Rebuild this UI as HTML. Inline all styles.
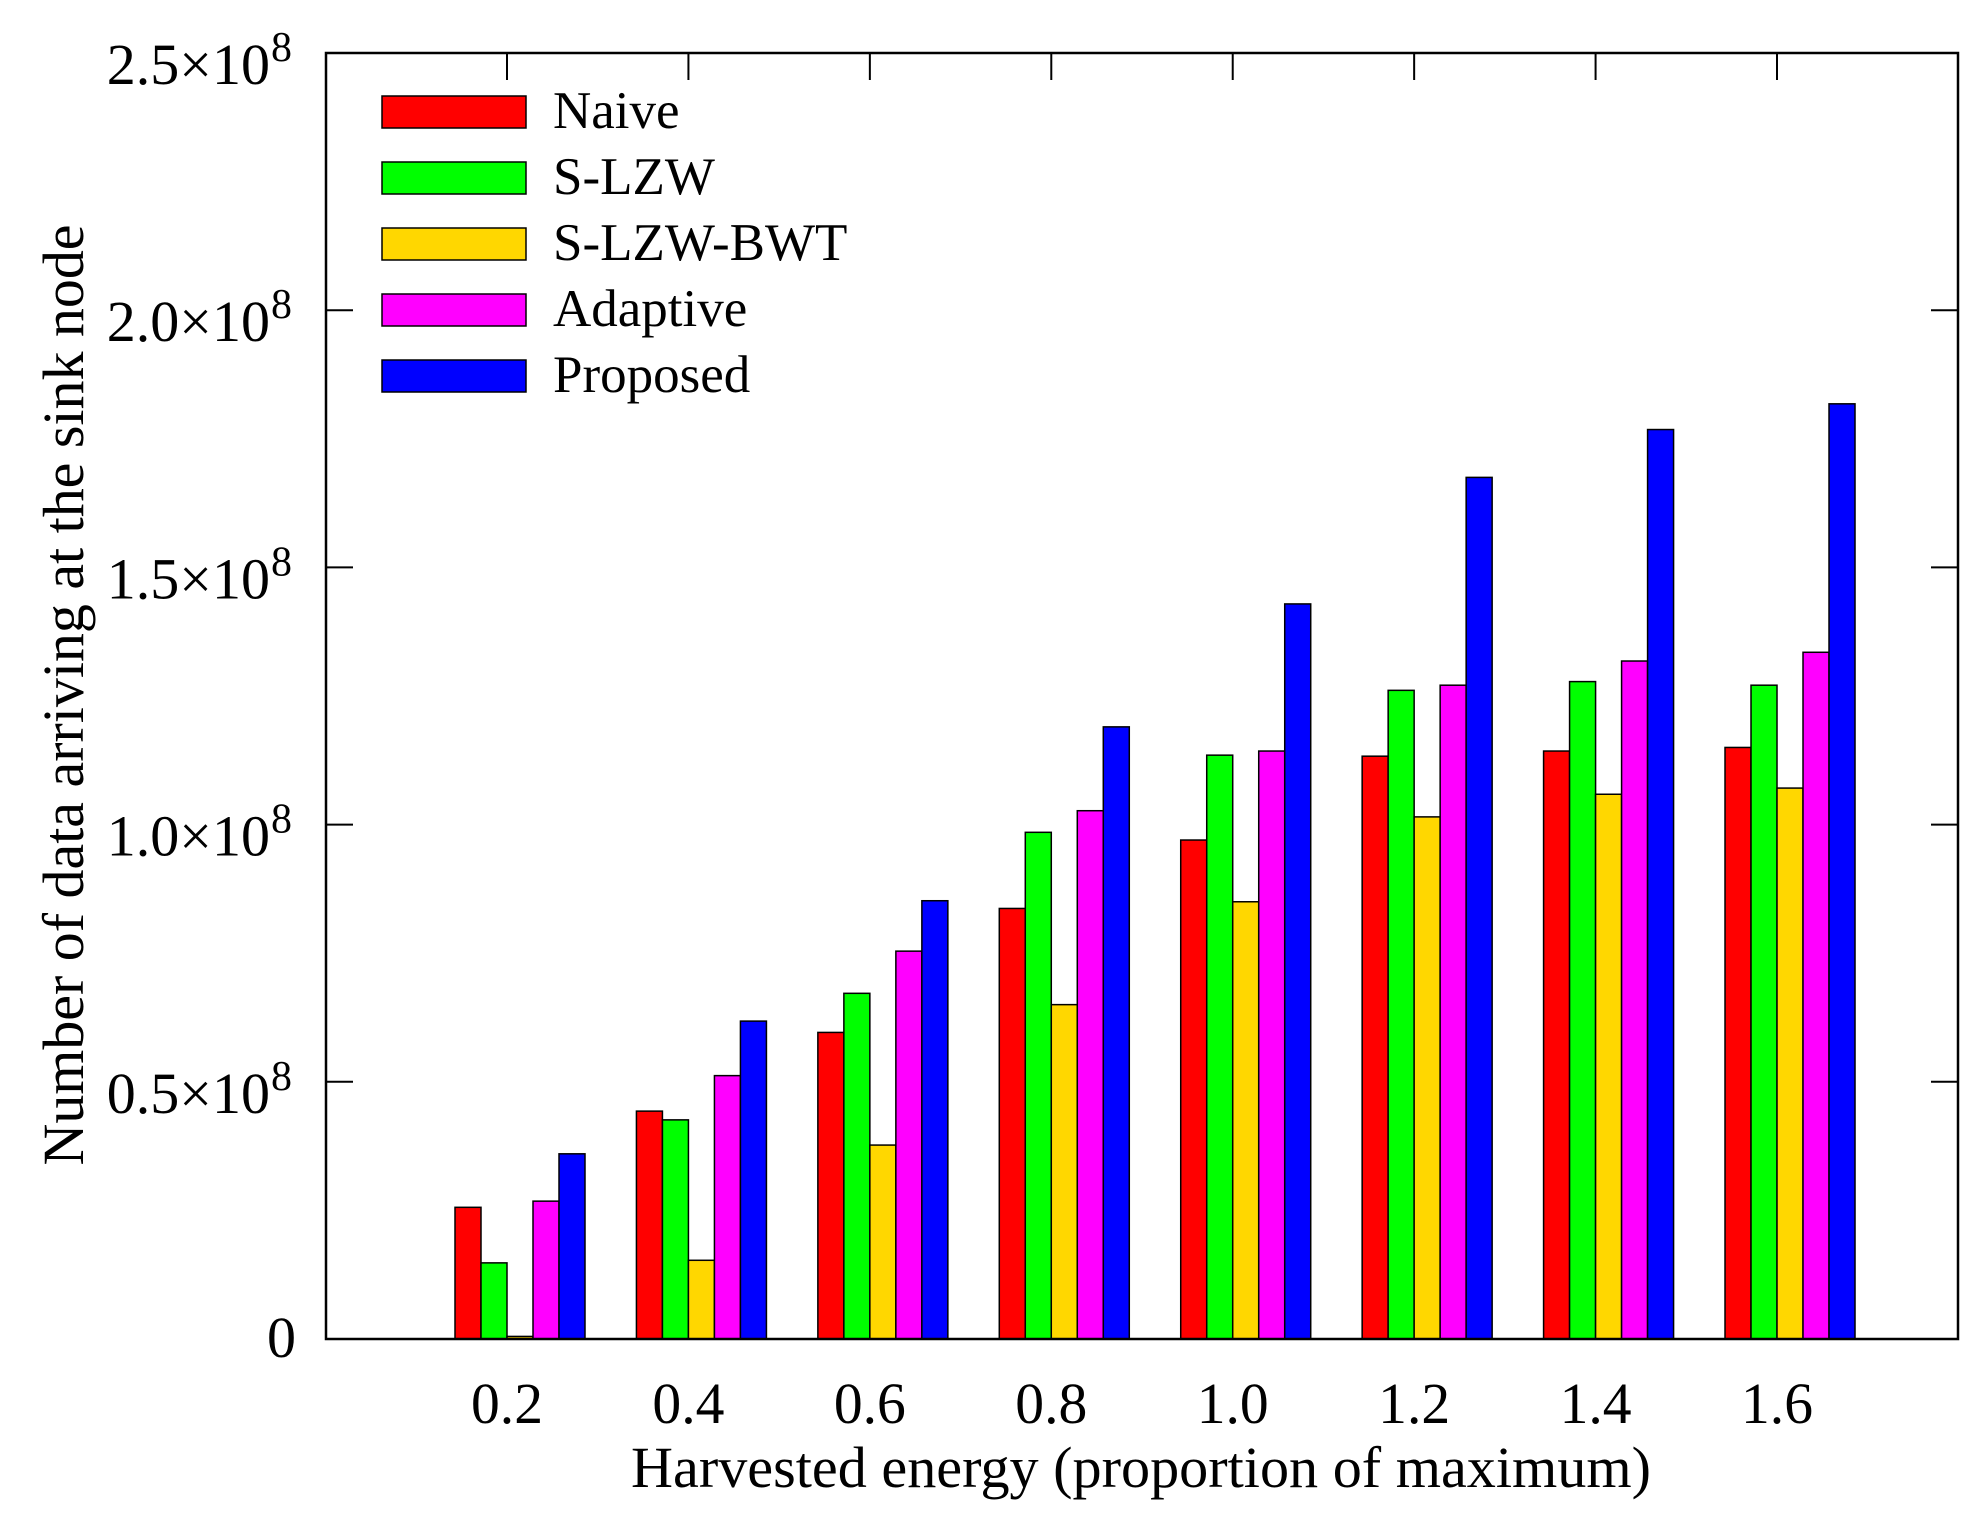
<!DOCTYPE html>
<html><head><meta charset="utf-8"><style>
html,body{margin:0;padding:0;background:#fff}
svg{display:block}
text{font-family:"Liberation Serif",serif;fill:#000}
</style></head><body>
<svg id="chart" width="1984" height="1525" viewBox="0 0 1984 1525" xmlns="http://www.w3.org/2000/svg">
<rect x="0" y="0" width="1984" height="1525" fill="#fff"/>
<g id="bars"></g>
<g id="axes"></g>
<g id="legend"></g>
<text x="1141" y="1487" font-size="58" text-anchor="middle" textLength="1020" lengthAdjust="spacingAndGlyphs">Harvested energy (proportion of maximum)</text>
<text transform="translate(83,695) rotate(-90)" font-size="58" text-anchor="middle" textLength="941" lengthAdjust="spacingAndGlyphs">Number of data arriving at the sink node</text>
</svg>
<script>
const categories = ["0.2","0.4","0.6","0.8","1.0","1.2","1.4","1.6"];
const seriesNames = ["Naive","S-LZW","S-LZW-BWT","Adaptive","Proposed"];
const seriesColors = ["#ff0000","#00ff00","#ffd700","#ff00ff","#0000ff"];
const naive = [0.256,0.443,0.596,0.837,0.970,1.133,1.143,1.150];
const slzw = [0.148,0.426,0.672,0.985,1.135,1.261,1.278,1.271];
const slzwbwt = [0.005,0.153,0.377,0.650,0.850,1.015,1.059,1.071];
const adaptive = [0.268,0.512,0.754,1.027,1.143,1.271,1.318,1.335];
const proposed = [0.360,0.618,0.852,1.190,1.429,1.675,1.768,1.818];
const yTicks = [0,0.5,1.0,1.5,2.0,2.5];
const yTickLabels = ["0","0.5×10","1.0×10","1.5×10","2.0×10","2.5×10"];

const NS="http://www.w3.org/2000/svg";
const L=326,R=1958,T=53,B=1339;
const yMax=2.5;
function yScale(v){return B-(v/yMax)*(B-T);}
function xScale(i){return 507+i*181.43;}
const barW=26;
function mk(tag,attrs,parent){const e=document.createElementNS(NS,tag);for(const k in attrs)e.setAttribute(k,attrs[k]);parent.appendChild(e);return e;}
const series=[naive,slzw,slzwbwt,adaptive,proposed];
const gb=document.getElementById('bars');
series.forEach((s,si)=>{
  s.forEach((v,ci)=>{
    const x=xScale(ci)-52+si*barW;
    const y=yScale(v);
    const r=mk('rect',{x:x,y:y,width:barW,height:B-y,fill:seriesColors[si],stroke:'#000','stroke-width':1.5},gb);
    
    
  });
});
const ga=document.getElementById('axes');
const fr=mk('rect',{x:L,y:T,width:R-L,height:B-T,fill:'none',stroke:'#000','stroke-width':2.5},ga);


yTicks.forEach((v,i)=>{
  const y=yScale(v);
  if(i>0&&i<yTicks.length-1){
    mk('line',{x1:L,x2:L+27,y1:y,y2:y,stroke:'#000','stroke-width':2},ga);
    mk('line',{x1:R,x2:R-27,y1:y,y2:y,stroke:'#000','stroke-width':2},ga);
  }
  const t=mk('text',{x:i===0?296:270,y:i===0?y+18:y+31,'font-size':58,'text-anchor':'end'},ga);
  t.textContent=yTickLabels[i];
  
  
  if(i>0){
    const s=mk('text',{x:271,y:y+8,'font-size':42},ga);
    s.textContent='8';
    
    
  }
});
categories.forEach((c,i)=>{
  const x=xScale(i);
  mk('line',{x1:x,x2:x,y1:T,y2:T+27,stroke:'#000','stroke-width':2},ga);
  const t=mk('text',{x:x,y:1423,'font-size':58,'text-anchor':'middle',textLength:72,lengthAdjust:'spacingAndGlyphs'},ga);
  t.textContent=c;
  
  
});
const gl=document.getElementById('legend');
seriesNames.forEach((n,i)=>{
  const y=96+i*66;
  const r=mk('rect',{x:382,y:y,width:144,height:32,fill:seriesColors[i],stroke:'#000','stroke-width':1.5},gl);
  
  
  const t=mk('text',{x:553,y:y+32,'font-size':53},gl);
  t.textContent=n;
  
  
});
</script>
</body></html>
